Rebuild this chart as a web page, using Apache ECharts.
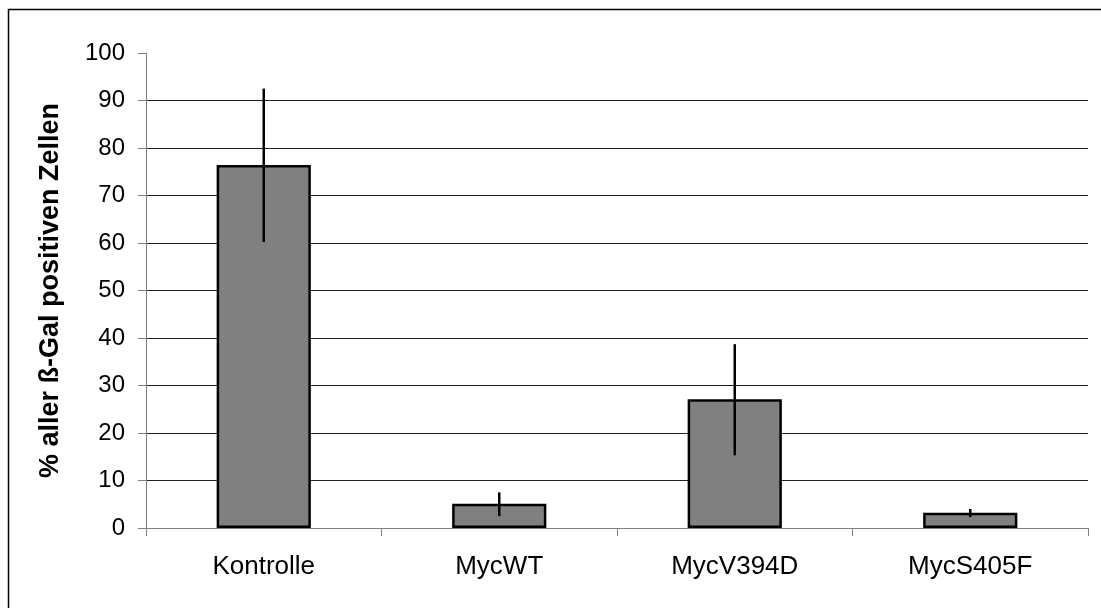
<!DOCTYPE html>
<html>
<head>
<meta charset="utf-8">
<script src="https://cdn.jsdelivr.net/npm/echarts@6/dist/echarts.min.js"></script>
<style>
html,body{margin:0;padding:0;background:#fff;}
#chart{width:1101px;height:608px;}
</style>
</head>
<body>
<div id="chart"></div>
<script>
const categories = ['Kontrolle', 'MycWT', 'MycV394D', 'MycS405F'];
const values = [76.4, 5.1, 27.1, 3.2];
const errLow = [60.2, 2.5, 15.3, 2.3];
const errHigh = [92.5, 7.5, 38.7, 4.0];
const yTicks = [0, 10, 20, 30, 40, 50, 60, 70, 80, 90, 100];
const yTitle = '% aller ß-Gal positiven Zellen';

const FONT = '"Liberation Sans", Arial, sans-serif';
const chart = echarts.init(document.getElementById('chart'), null, {renderer: 'canvas'});

const errData = categories.map((c, i) => [i, errLow[i], errHigh[i]]);

chart.setOption({
  backgroundColor: '#fff',
  animation: false,
  graphic: [{
    type: 'rect',
    shape: {x: 8.5, y: 9.5, width: 1200, height: 700},
    style: {fill: 'none', stroke: '#000', lineWidth: 1.5},
    silent: true
  }],
  grid: {left: 146, right: 13, top: 53, bottom: 80, containLabel: false},
  xAxis: {
    type: 'category',
    data: categories,
    boundaryGap: true,
    axisLine: {show: true, lineStyle: {color: '#808080', width: 1}},
    axisTick: {show: true, alignWithLabel: false, length: 8, lineStyle: {color: '#808080', width: 1}},
    axisLabel: {color: '#000', fontSize: 26, fontFamily: FONT, margin: 26},
    splitLine: {show: false}
  },
  yAxis: {
    type: 'value',
    min: yTicks[0],
    max: yTicks[yTicks.length - 1],
    interval: yTicks[1] - yTicks[0],
    name: yTitle,
    nameLocation: 'middle',
    nameGap: 82,
    nameTextStyle: {color: '#000', fontSize: 27, fontWeight: 'bold', fontFamily: FONT},
    axisLine: {show: true, lineStyle: {color: '#808080', width: 1}},
    axisTick: {show: true, length: 8, lineStyle: {color: '#808080', width: 1}},
    axisLabel: {color: '#000', fontSize: 24, fontFamily: FONT, margin: 21},
    splitLine: {show: true, showMinLine: false, showMaxLine: false, lineStyle: {color: '#222', width: 1}}
  },
  series: [{
    type: 'bar',
    data: values,
    barWidth: '40%',
    itemStyle: {color: '#808080', borderColor: '#000', borderWidth: 2.5},
    z: 2
  }, {
    type: 'custom',
    data: errData,
    z: 3,
    renderItem: function (params, api) {
      const x = api.value(0);
      const lo = api.coord([x, api.value(1)]);
      const hi = api.coord([x, api.value(2)]);
      return {
        type: 'line',
        shape: {x1: lo[0], y1: lo[1], x2: hi[0], y2: hi[1]},
        style: {stroke: '#000', lineWidth: 2.5}
      };
    }
  }]
});
</script>
</body>
</html>
